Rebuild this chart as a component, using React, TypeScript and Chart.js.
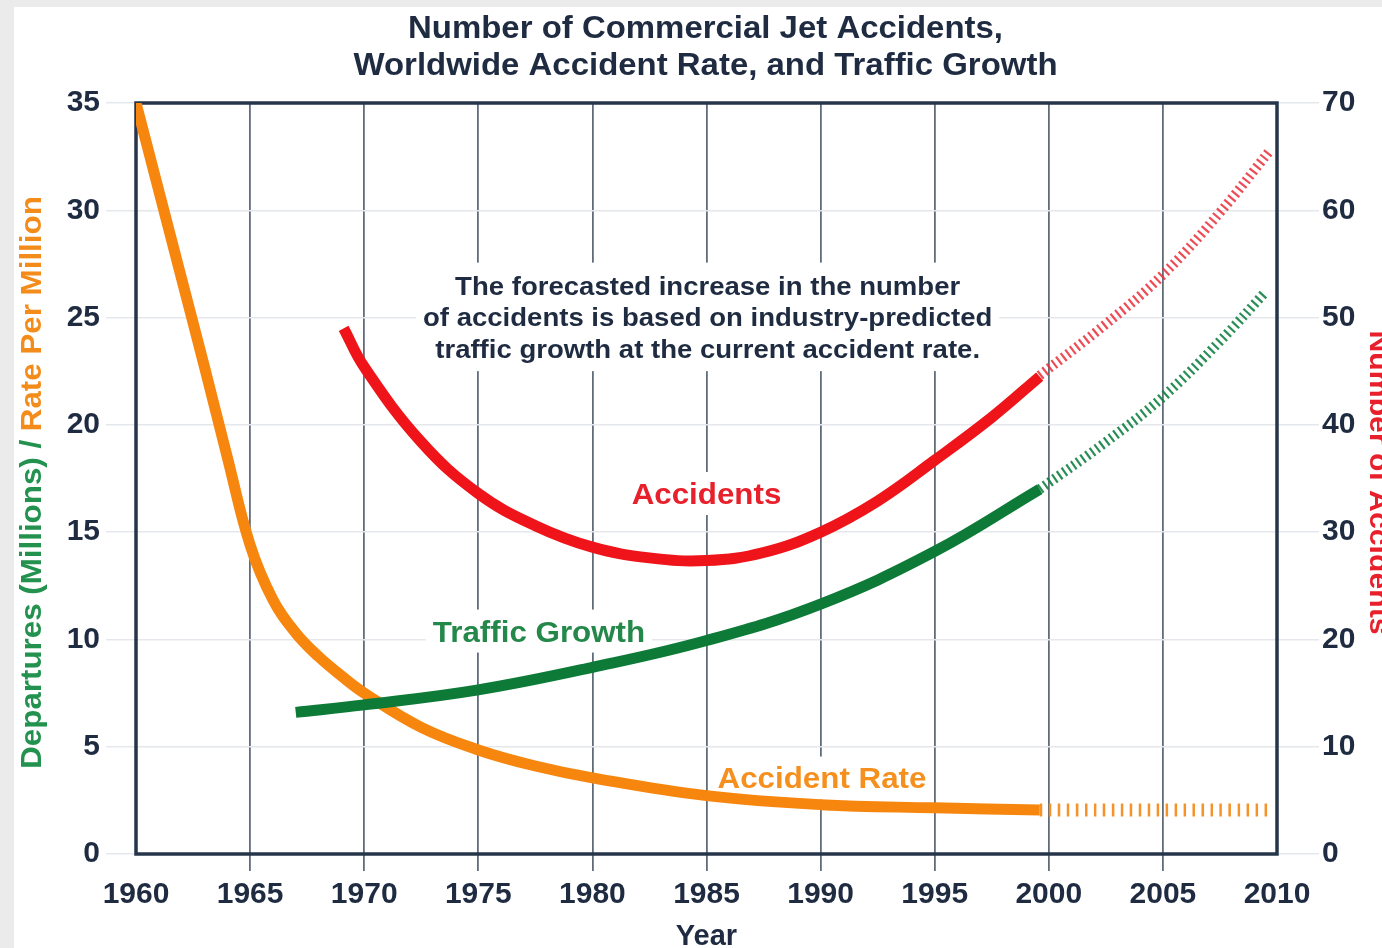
import React, { useEffect, useRef } from 'react';
import { Chart, registerables } from 'chart.js';

Chart.register(...registerables);

// ---- data ---------------------------------------------------------------
// Accident rate per million departures (left axis)
const rateYears = [1960, 1961, 1962, 1963, 1964, 1965, 1966, 1967, 1968, 1969, 1970, 1972.5, 1975, 1977.5, 1980, 1985, 1990, 1995, 1999.6];
const rateValues = [35, 30.9, 26.8, 22.7, 18.5, 14.4, 11.85, 10.3, 9.2, 8.3, 7.5, 5.9, 4.85, 4.1, 3.55, 2.72, 2.3, 2.15, 2.05];
const rateForecastYears = [1999.6, 2009.7];
const rateForecastValues = [2.05, 2.05];

// Departures in millions (left axis)
const trafficYears = [1967, 1970, 1975, 1980, 1985, 1990, 1995, 1999.6];
const trafficValues = [6.6, 6.95, 7.65, 8.7, 9.95, 11.65, 14.1, 17.0];
const trafficForecastYears = [1999.6, 2002.5, 2005, 2007.5, 2009.5];
const trafficForecastValues = [17.0, 19.2, 21.3, 23.9, 26.2];

// Number of accidents (right axis)
const accidentYears = [1969.1, 1970, 1972.5, 1975, 1977.5, 1980, 1982.5, 1985, 1987.5, 1990, 1992.5, 1995, 1997.5, 1999.6];
const accidentValues = [49, 45.4, 38.4, 33.6, 30.6, 28.6, 27.6, 27.35, 28.1, 30.0, 32.9, 36.7, 40.7, 44.5];
const accidentForecastYears = [1999.6, 2002.5, 2005, 2007.5, 2009.7];
const accidentForecastValues = [44.6, 49.4, 54, 59.8, 65.6];

// axis ranges
const yearMin = 1960;
const yearMax = 2010;
const yearStep = 5;
const leftMax = 35;
const leftStep = 5;
const rightMax = 70;
const rightStep = 10;

const titleLines = ['Number of Commercial Jet Accidents,', 'Worldwide Accident Rate, and Traffic Growth'];
const noteLines = [
  'The forecasted increase in the number',
  'of accidents is based on industry-predicted',
  'traffic growth at the current accident rate.',
];

// ---- styling ------------------------------------------------------------
const FONT = "'Liberation Sans', Arial, Helvetica, sans-serif";
const STRETCH = 1.08;
const NAVY = '#1e2b40';
const ORANGE = '#f7860f';
const GREEN = '#0d7b37';
const RED = '#ee1419';
const GRID_FAINT = '#e4e8ec';
const GRID_DARK = '#616c7b';

const pts = (xs: number[], ys: number[]) => xs.map((x, i) => ({ x, y: ys[i] }));

type Ctx = CanvasRenderingContext2D;

// centred, slightly widened bold text; y is the visual centre of the capitals
function stretchedText(ctx: Ctx, text: string, x: number, y: number, size: number, color: string) {
  ctx.save();
  ctx.font = `bold ${size}px ${FONT}`;
  ctx.fillStyle = color;
  ctx.textAlign = 'center';
  ctx.textBaseline = 'alphabetic';
  ctx.translate(x, y + size * 0.36);
  ctx.scale(STRETCH, 1);
  ctx.fillText(text, 0, 0);
  ctx.restore();
}

function textWidth(ctx: Ctx, text: string, size: number) {
  ctx.save();
  ctx.font = `bold ${size}px ${FONT}`;
  const w = ctx.measureText(text).width * STRETCH;
  ctx.restore();
  return w;
}

// labels placed in data coordinates (year, left-axis value)
const seriesLabels = [
  { text: 'Accidents', year: 1985, value: 16.8, color: '#e8202b', size: 29 },
  { text: 'Traffic Growth', year: 1977.66, value: 10.39, color: '#23884a', size: 29 },
  { text: 'Accident Rate', year: 1990.06, value: 3.54, color: '#f5901f', size: 29 },
];
const noteAnchor = { year: 1985.05, value: 26.5, size: 25.5, spacing: 31.5 };

function labelBoxes(chart: any) {
  const { ctx } = chart;
  const x = chart.scales.x;
  const y = chart.scales.y;
  const boxes: { x: number; y: number; w: number; h: number }[] = [];
  for (const l of seriesLabels) {
    const cx = x.getPixelForValue(l.year);
    const cy = y.getPixelForValue(l.value);
    const w = textWidth(ctx, l.text, l.size) + 14;
    const h = l.size + 14;
    boxes.push({ x: cx - w / 2, y: cy - h / 2, w, h });
  }
  const nx = x.getPixelForValue(noteAnchor.year);
  const ny = y.getPixelForValue(noteAnchor.value);
  const nw = Math.max(...noteLines.map((t) => textWidth(ctx, t, noteAnchor.size))) + 14;
  const nh = noteAnchor.spacing * (noteLines.length - 1) + noteAnchor.size + 20;
  boxes.push({ x: nx - nw / 2, y: ny - noteAnchor.size / 2 - 10, w: nw, h: nh });
  return boxes;
}

const decorPlugin = {
  id: 'decor',
  beforeDatasetsDraw(chart: any) {
    const { ctx, chartArea: a } = chart;
    ctx.save();
    ctx.fillStyle = '#ffffff';
    for (const b of labelBoxes(chart)) ctx.fillRect(b.x, b.y, b.w, b.h);
    ctx.strokeStyle = '#26354a';
    ctx.lineWidth = 3.5;
    ctx.strokeRect(a.left, a.top, a.right - a.left, a.bottom - a.top);
    ctx.restore();
  },
  afterDatasetsDraw(chart: any) {
    const { ctx, chartArea: a } = chart;
    const x = chart.scales.x;
    const y = chart.scales.y;
    const midX = (a.left + a.right) / 2;

    // chart title
    stretchedText(ctx, titleLines[0], midX - 1, 27, 30.5, NAVY);
    stretchedText(ctx, titleLines[1], midX - 1, 64, 30.5, NAVY);

    // forecast note
    const nx = x.getPixelForValue(noteAnchor.year);
    const ny = y.getPixelForValue(noteAnchor.value);
    noteLines.forEach((t, i) => stretchedText(ctx, t, nx, ny + i * noteAnchor.spacing, noteAnchor.size, NAVY));

    // series labels
    for (const l of seriesLabels) {
      stretchedText(ctx, l.text, x.getPixelForValue(l.year), y.getPixelForValue(l.value), l.size, l.color);
    }

    // left axis title in two colours
    const midY = (a.top + a.bottom) / 2 + 4;
    ctx.save();
    ctx.font = `bold 29px ${FONT}`;
    ctx.translate(33, midY);
    ctx.rotate(-Math.PI / 2);
    ctx.scale(STRETCH, 1);
    const partA = 'Departures (Millions) / ';
    const partB = 'Rate Per Million';
    const wa = ctx.measureText(partA).width;
    const wb = ctx.measureText(partB).width;
    ctx.textAlign = 'left';
    ctx.textBaseline = 'middle';
    ctx.fillStyle = '#23924f';
    ctx.fillText(partA, -(wa + wb) / 2, 0);
    ctx.fillStyle = '#f48c1c';
    ctx.fillText(partB, -(wa + wb) / 2 + wa, 0);
    ctx.restore();

    // right axis title
    ctx.save();
    ctx.font = `bold 28px ${FONT}`;
    ctx.translate(1370, midY);
    ctx.rotate(Math.PI / 2);
    ctx.scale(STRETCH, 1);
    ctx.textAlign = 'center';
    ctx.textBaseline = 'alphabetic';
    ctx.fillStyle = '#e8202b';
    ctx.fillText('Number of Accidents', 0, 0);
    ctx.restore();
  },
};

const solid = { pointRadius: 0, fill: false, tension: 0.4, borderCapStyle: 'butt' as const, borderJoinStyle: 'round' as const, borderWidth: 11 };

export default function App() {
  const canvasRef = useRef<HTMLCanvasElement>(null);

  useEffect(() => {
    const canvas = canvasRef.current;
    if (!canvas) return;
    const tickFont = { family: FONT, size: 30, weight: 'bold' as const, lineHeight: 1 };

    const chart = new Chart(canvas, {
      type: 'line',
      data: {
        datasets: [
          { ...solid, label: 'Traffic Growth', data: pts(trafficYears, trafficValues), borderColor: GREEN, yAxisID: 'y' },
          { ...solid, label: 'Traffic Growth forecast', data: pts(trafficForecastYears, trafficForecastValues), borderColor: 'rgba(18,130,66,0.9)', borderWidth: 10, borderDash: [2.2, 3.6], yAxisID: 'y' },
          { ...solid, label: 'Accident Rate', data: pts(rateYears, rateValues), borderColor: ORANGE, yAxisID: 'y' },
          { ...solid, label: 'Accident Rate forecast', data: pts(rateForecastYears, rateForecastValues), borderColor: 'rgba(244,140,30,0.95)', borderWidth: 13, borderDash: [2.5, 6.5], yAxisID: 'y' },
          { ...solid, label: 'Accidents', data: pts(accidentYears, accidentValues), borderColor: RED, yAxisID: 'y2' },
          { ...solid, label: 'Accidents forecast', data: pts(accidentForecastYears, accidentForecastValues), borderColor: 'rgba(234,45,55,0.85)', borderWidth: 10, borderDash: [2.2, 3.6], yAxisID: 'y2' },
        ],
      },
      options: {
        animation: false,
        responsive: false,
        maintainAspectRatio: false,
        layout: { padding: { top: 103, left: 0, right: 0, bottom: 0 } },
        plugins: {
          legend: { display: false },
          tooltip: { enabled: false },
          title: { display: false },
        },
        scales: {
          x: {
            type: 'linear',
            min: yearMin,
            max: yearMax,
            ticks: {
              stepSize: yearStep,
              autoSkip: false,
              maxRotation: 0,
              padding: 9,
              color: NAVY,
              font: tickFont,
              callback: (v: any) => String(v),
            },
            grid: {
              color: GRID_DARK,
              lineWidth: 1.8,
              tickLength: 17,
              tickColor: (c: any) => (c.tick && (c.tick.value === yearMin || c.tick.value === yearMax) ? 'rgba(0,0,0,0)' : GRID_DARK),
            },
            border: { display: false },
            title: {
              display: true,
              text: 'Year',
              color: NAVY,
              font: { family: FONT, size: 29, weight: 'bold', lineHeight: 1 },
              padding: { top: 0, bottom: -3 },
            },
            afterFit: (s: any) => {
              s.height = 94;
            },
          },
          y: {
            position: 'left',
            min: 0,
            max: leftMax,
            ticks: { stepSize: leftStep, padding: 6, color: NAVY, font: tickFont },
            grid: { color: GRID_FAINT, lineWidth: 1.5, tickLength: 30 },
            border: { display: false },
            afterFit: (s: any) => {
              s.width = 136;
            },
          },
          y2: {
            position: 'right',
            min: 0,
            max: rightMax,
            ticks: { stepSize: rightStep, padding: 3, color: NAVY, font: tickFont },
            grid: { drawOnChartArea: false, color: GRID_FAINT, lineWidth: 1.5, tickLength: 42 },
            border: { display: false },
            afterFit: (s: any) => {
              s.width = 105;
            },
          },
        },
      },
      plugins: [decorPlugin],
    } as any);

    return () => chart.destroy();
  }, []);

  return (
    <div style={{ position: 'fixed', inset: 0, background: '#ebebeb', overflow: 'hidden' }}>
      <div style={{ position: 'absolute', left: 14, top: 7, right: 0, bottom: 0, background: '#ffffff' }} />
      <canvas
        ref={canvasRef}
        width={1382}
        height={948}
        style={{ position: 'absolute', left: 0, top: 0, width: 1382, height: 948 }}
      />
    </div>
  );
}
